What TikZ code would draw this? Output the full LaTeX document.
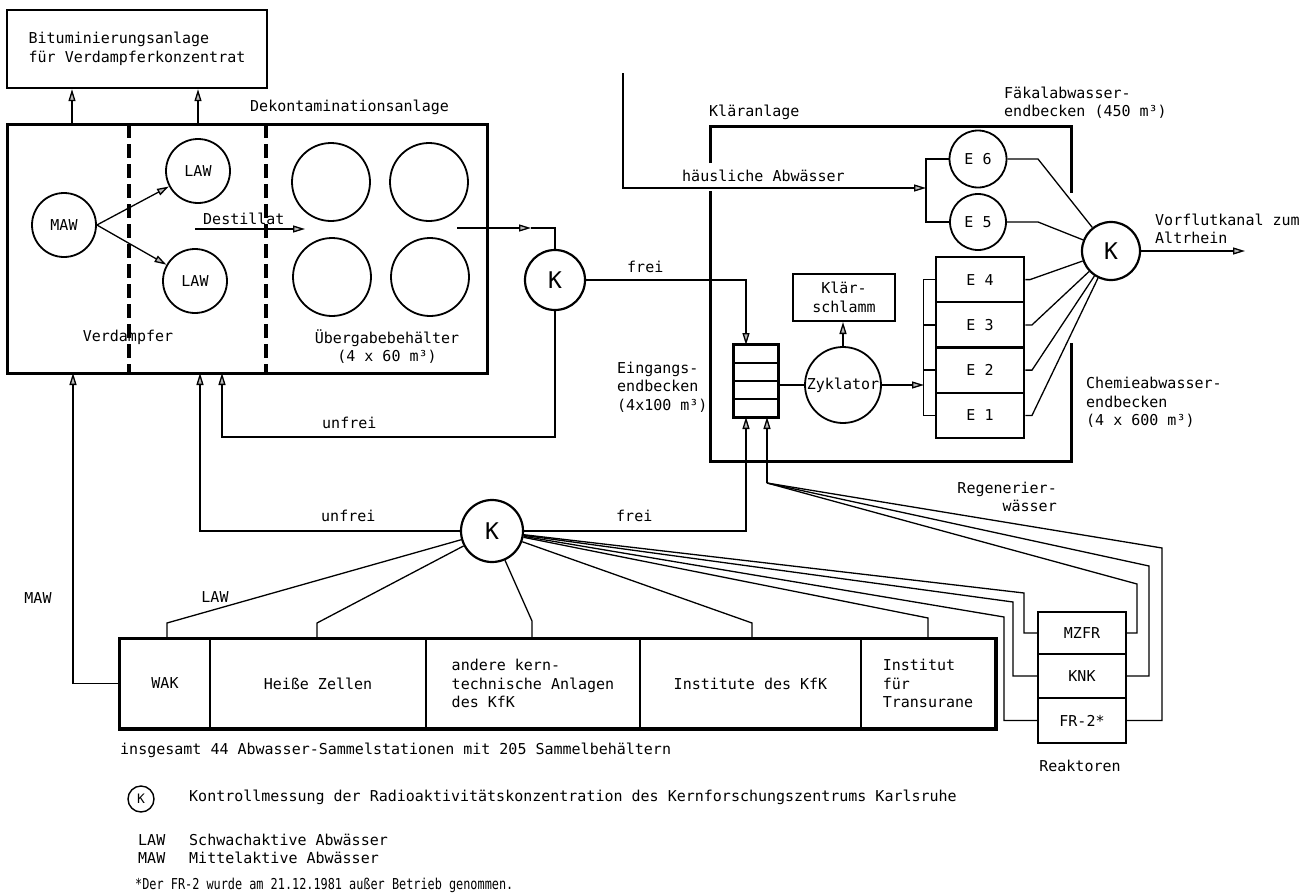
\documentclass[tikz,border=0pt]{standalone}
\usepackage{fontspec}
\newfontfamily\dmono{DejaVu Sans Mono}
\newfontfamily\dmonoc[FakeStretch=0.79]{DejaVu Sans Mono}
\usetikzlibrary{arrows.meta}
\tikzset{
  txt/.style={font=\dmono\fontsize{15}{18.5}\selectfont, inner sep=0pt},
  conn/.style={line width=1.3pt},
  arr/.style={conn, -{Triangle[length=12pt,width=7pt,fill=gray!55]}},
  box/.style={draw, line width=2pt, txt, align=center},
  circ/.style={draw, circle, line width=1.8pt, txt, inner sep=0pt},
  kc/.style={draw, circle, line width=2.2pt, inner sep=0pt, font=\dmono\fontsize{23}{23}\selectfont},
  bigc/.style={draw, circle, line width=1.8pt, inner sep=0pt, minimum size=78},
  cell/.style={draw, line width=2pt, minimum width=44, minimum height=18, inner sep=0pt},
  thickbox/.style={line width=3pt},
  dashln/.style={line width=3.5pt, dash pattern=on 14pt off 6pt},
}
\begin{document}
\begin{tikzpicture}[x=1pt,y=-1pt]
\useasboundingbox (0,0) rectangle (1311,894);
% Bituminierung
\node[box, line width=2.4pt, minimum width=260, minimum height=78, align=left] (bit) at (137,49) {Bituminierungsanlage\\für Verdampferkonzentrat};
% Dekontaminationsanlage
\node[draw, line width=3pt, minimum width=480, minimum height=249, inner sep=0pt] (dek) at (247,248.5) {};
\node[txt, anchor=west] (deklab) at (250,107) {Dekontaminationsanlage};
\draw[dashln] (129,124) -- (129,373);
\draw[dashln] (266,124) -- (266,373);
\coordinate (t1) at (72,124);
\coordinate (t2) at (198,124);
\draw[arr] (t1) -- (t1 |- bit.south);
\draw[arr] (t2) -- (t2 |- bit.south);
\node[circ, minimum size=64] (maw) at (64,225) {MAW};
\node[circ, minimum size=64] (law1) at (198,171) {LAW};
\node[circ, minimum size=64] (law2) at (195,281) {LAW};
\draw[arr] (maw.east) -- (law1);
\draw[arr] (maw.east) -- (law2);
\node[txt, anchor=west] (dest) at (203,219) {Destillat};
\coordinate (ds0) at (195,229);
\coordinate (ds1) at (305,229);
\draw[arr] (ds0) -- (ds1);
\node[bigc] (u1) at (331,182) {};
\node[bigc] (u2) at (429,182) {};
\node[bigc] (u3) at (332,277) {};
\node[bigc] (u4) at (430,277) {};
\node[txt] (verd) at (128,337) {Verdampfer};
\node[txt, align=center] (ueb) at (387,346.5) {Übergabebehälter\\(4 x 60 m³)};
% K1
\node[kc, minimum size=60] (k1) at (555,280) {K};
\coordinate (ub0) at (457,228);
\coordinate (ub1) at (531,228);
\draw[arr] (ub0) -- (ub1);
\draw[conn] (ub1) -| (k1);
\coordinate (d3) at (222,373);
\draw[arr] (k1.south) |- (222,437) -- (d3);
\node[txt, anchor=west] (unf1) at (322,423) {unfrei};
\coordinate (einA) at (746,345);
\draw[arr] (k1.east) -| (einA);
\node[txt, anchor=west] (frei1) at (627,267) {frei};
% Klaeranlage
\draw[thickbox] (710,163) -- (710,126) -- (1071,126) -- (1071,193);
\draw[thickbox] (710,191) -- (710,461) -- (1071,461) -- (1071,343);
\node[txt, anchor=west] (klab) at (709,112) {Kläranlage};
\coordinate (hs0) at (623,73);
\coordinate (hs1) at (926,188);
\draw[arr] (hs0) |- (hs1);
\node[txt, anchor=west] (hlab) at (682,176) {häusliche Abwässer};
\node[circ, minimum size=57] (e6) at (978,159) {E 6};
\node[circ, minimum size=56] (e5) at (978,222) {E 5};
\draw[conn] (e6.west) -| (hs1) |- (e5.west);
\node[txt, anchor=west, align=left] (fk) at (1004,102.5) {Fäkalabwasser-\\endbecken (450 m³)};
\node[kc, minimum size=58] (k2) at (1111,251) {K};
\coordinate (vf) at (1245,251);
\draw[arr] (k2.east) -- (vf);
\node[txt, anchor=west, align=left] (vfl) at (1155,229) {Vorflutkanal zum\\Altrhein};
\node[box, minimum width=88.5, minimum height=45.25] (e4) at (980,279.6) {E 4};
\node[box, minimum width=88.5, minimum height=45.25] (e3) at (980,324.9) {E 3};
\node[box, minimum width=88.5, minimum height=45.25] (e2) at (980,370.1) {E 2};
\node[box, minimum width=88.5, minimum height=45.25] (e1) at (980,415.4) {E 1};
\draw[conn] (e4.west) -- ++(-11.5,0) |- (e1.west);
\draw[conn] (e3.west) -- ++(-11.5,0);
\draw[conn] (e2.west) -- ++(-11.5,0);
\draw[conn] (e6.east) -- (1038,159) -- (k2);
\draw[conn] (e5.east) -- (1038,222) -- (k2);
\draw[conn] (e4.east) -- (1030,279.6) -- (k2);
\draw[conn] (e3.east) -- (1032,324.9) -- (k2);
\draw[conn] (e2.east) -- (1032,370.1) -- (k2);
\draw[conn] (e1.east) -- (1032,415.4) -- (k2);
\node[txt, anchor=west, align=left] (ch) at (1086,402.5) {Chemieabwasser-\\endbecken\\(4 x 600 m³)};
% Eingangsendbecken
\node[cell] (ein1) at (756,354) {};
\node[cell] (ein2) at (756,372) {};
\node[cell] (ein3) at (756,390) {};
\node[cell] (ein4) at (756,408) {};
\draw[line width=2.5pt] (ein1.north west) rectangle (ein4.south east);
\node[txt, anchor=west, align=left] (einl) at (617,387) {Eingangs-\\endbecken\\(4x100 m³)};
\node[circ, minimum size=76] (zyk) at (843,385) {Zyklator};
\draw[conn] (zyk.west) -- (zyk.west -| ein1.east);
\coordinate (bk) at (924,385);
\draw[arr] (zyk.east) -- (bk);
\node[box, minimum width=102, minimum height=47] (ks) at (844,297.5) {Klär-\\schlamm};
\draw[arr] (zyk.north) -- (zyk.north |- ks.south);
\node[txt, anchor=east, align=right] (rgl) at (1057,497) {Regenerier-\\wässer};
% K3
\node[kc, minimum size=62] (k3) at (492,531) {K};
\coordinate (d1) at (73,373);
\coordinate (d2) at (200,373);
\draw[arr] (k3.west) -| (d2);
\node[txt, anchor=west] (unf2) at (321,516) {unfrei};
\coordinate (einB) at (746,417);
\draw[arr] (k3.east) -| (einB);
\node[txt, anchor=west] (frei2) at (616,516) {frei};
% bottom row
\node[box, minimum width=90, minimum height=89] (wak) at (165,683.5) {WAK};
\node[box, minimum width=216, minimum height=89] (hz) at (318,683.5) {Heiße Zellen};
\node[box, minimum width=214, minimum height=89, align=left] (and) at (533,683.5) {andere kern-\\technische Anlagen\\des KfK};
\node[box, minimum width=221, minimum height=89] (inst) at (750.5,683.5) {Institute des KfK};
\node[box, minimum width=134, minimum height=89, align=left] (itu) at (928,683.5) {Institut\\für\\Transurane};
\draw[line width=3pt] (wak.north west) rectangle (itu.south east);
\draw[arr] (wak.west) -| (d1);
\node[txt] (mawl) at (38,598) {MAW};
\node[txt] (lawl) at (215,597) {LAW};
\draw[conn] (k3) -- (167,623) -- (167,639);
\draw[conn] (k3) -- (317,623) -- (317,639);
\draw[conn] (k3) -- (532,621) -- (532,639);
\draw[conn] (k3) -- (752,623) -- (752,639);
\draw[conn] (k3) -- (928,618) -- (928,639);
% reactors
\node[box, line width=2.4pt, minimum width=88, minimum height=42] (mz) at (1082,633) {MZFR};
\node[box, line width=2.4pt, minimum width=88, minimum height=44] (knk) at (1082,676) {KNK};
\node[box, line width=2.4pt, minimum width=88, minimum height=45] (fr) at (1082,720.5) {FR-2*};
\node[txt] (reak) at (1080,766) {Reaktoren};
\draw[conn] (k3) -- (1004,617) |- (fr.west);
\draw[conn] (k3) -- (1013,602) |- (knk.west);
\draw[conn] (k3) -- (1024,593) |- (mz.west);
\coordinate (rg) at (767,483);
\coordinate (einC) at (767,417);
\draw[arr] (rg) -- (einC);
\draw[conn] (fr.east) -| (1162,548) -- (rg);
\draw[conn] (knk.east) -| (1149,566) -- (rg);
\draw[conn] (mz.east) -| (1137,584) -- (rg);
% legend
\node[txt, anchor=west] (ins) at (120,750) {insgesamt 44 Abwasser-Sammelstationen mit 205 Sammelbehältern};
\node[draw, circle, line width=1.4pt, minimum size=26, inner sep=0pt, font=\dmono\fontsize{13}{13}\selectfont] (kleg) at (141,799) {K};
\node[txt, anchor=west] (kl) at (189,797) {Kontrollmessung der Radioaktivitätskonzentration des Kernforschungszentrums Karlsruhe};
\node[txt, anchor=west] (l1) at (138,840) {LAW};
\node[txt, anchor=west] (l2) at (189,840) {Schwachaktive Abwässer};
\node[txt, anchor=west] (m1) at (138,858) {MAW};
\node[txt, anchor=west] (m2) at (189,858) {Mittelaktive Abwässer};
\node[anchor=west, inner sep=0pt, font=\dmonoc\fontsize{15}{18.5}\selectfont] (fn) at (135,885) {*Der FR-2 wurde am 21.12.1981 außer Betrieb genommen.};
\end{tikzpicture}
\end{document}
